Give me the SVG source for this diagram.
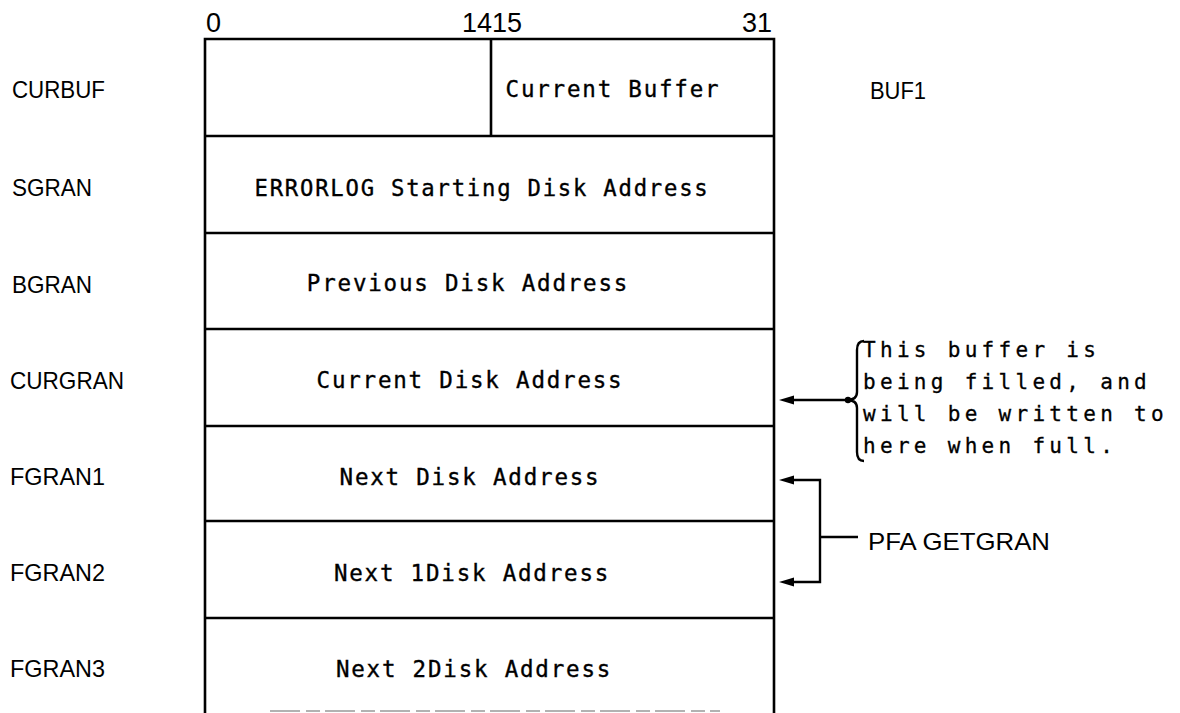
<svg xmlns="http://www.w3.org/2000/svg" width="1180" height="713" viewBox="0 0 1180 713">
  <defs>
    <style>
      .frame { fill: none; stroke: #000; stroke-width: 2.6; }
      .ln { fill: none; stroke: #000; stroke-width: 2.4; }
      .lbl { font-family: "Liberation Sans", Arial, sans-serif; font-size: 24px; fill: #000; }
      .num { font-family: "Liberation Sans", Arial, sans-serif; font-size: 27px; fill: #000; }
      .box { font-family: "DejaVu Sans Mono", "Liberation Mono", monospace; font-size: 22.5px; letter-spacing: 1.8px; fill: #000; stroke: #000; stroke-width: 0.35; text-anchor: middle; }
      .note { font-family: "DejaVu Sans Mono", "Liberation Mono", monospace; font-size: 21px; letter-spacing: 4.3px; fill: #000; stroke: #000; stroke-width: 0.3; }
      .head { fill: #000; }
    </style>
  </defs>
  <rect width="1180" height="713" fill="#fff"/>

  <g id="bit-numbers">
    <text class="num" x="206" y="32">0</text>
    <text class="num" x="492" y="32" text-anchor="end">14</text>
    <text class="num" x="492" y="32">15</text>
    <text class="num" x="772" y="32" text-anchor="end">31</text>
  </g>

  <g id="table">
    <path class="frame" d="M205,713 V39 H774 V713"/>
    <line class="frame" x1="491" y1="39" x2="491" y2="136"/>
    <line class="frame" x1="205" y1="136" x2="774" y2="136"/>
    <line class="frame" x1="205" y1="233" x2="774" y2="233"/>
    <line class="frame" x1="205" y1="329" x2="774" y2="329"/>
    <line class="frame" x1="205" y1="426" x2="774" y2="426"/>
    <line class="frame" x1="205" y1="521" x2="774" y2="521"/>
    <line class="frame" x1="205" y1="618" x2="774" y2="618"/>
    <line x1="270" y1="711" x2="720" y2="711" stroke="#999" stroke-width="1.5" stroke-dasharray="30,6,14,5"/>
  </g>

  <g id="row-curbuf">
    <text class="lbl" x="12" y="98" textLength="93" lengthAdjust="spacingAndGlyphs">CURBUF</text>
    <text class="box" x="613" y="97">Current Buffer</text>
    <text class="lbl" x="870" y="99" textLength="56" lengthAdjust="spacingAndGlyphs">BUF1</text>
  </g>
  <g id="row-sgran">
    <text class="lbl" x="12" y="196" textLength="80" lengthAdjust="spacingAndGlyphs">SGRAN</text>
    <text class="box" x="482" y="196" textLength="455" lengthAdjust="spacingAndGlyphs">ERRORLOG Starting Disk Address</text>
  </g>
  <g id="row-bgran">
    <text class="lbl" x="12" y="293" textLength="80" lengthAdjust="spacingAndGlyphs">BGRAN</text>
    <text class="box" x="468" y="291">Previous Disk Address</text>
  </g>
  <g id="row-curgran">
    <text class="lbl" x="10" y="389" textLength="114" lengthAdjust="spacingAndGlyphs">CURGRAN</text>
    <text class="box" x="470" y="388">Current Disk Address</text>
  </g>
  <g id="row-fgran1">
    <text class="lbl" x="10" y="485" textLength="95" lengthAdjust="spacingAndGlyphs">FGRAN1</text>
    <text class="box" x="470" y="485">Next Disk Address</text>
  </g>
  <g id="row-fgran2">
    <text class="lbl" x="10" y="581" textLength="95" lengthAdjust="spacingAndGlyphs">FGRAN2</text>
    <text class="box" x="472" y="581">Next 1Disk Address</text>
  </g>
  <g id="row-fgran3">
    <text class="lbl" x="10" y="677" textLength="95" lengthAdjust="spacingAndGlyphs">FGRAN3</text>
    <text class="box" x="474" y="677">Next 2Disk Address</text>
  </g>

  <g id="note-buffer">
    <text class="note" x="863" y="357">This buffer is</text>
    <text class="note" x="863" y="389">being filled, and</text>
    <text class="note" x="863" y="421">will be written to</text>
    <text class="note" x="863" y="453">here when full.</text>
  </g>
  <g id="note-getgran">
    <text class="lbl" x="868" y="550" textLength="182" lengthAdjust="spacingAndGlyphs">PFA GETGRAN</text>
  </g>

  <g id="connectors">
    <path class="ln" d="M864,341 Q857,341 857,350 V392 Q857,400 847,400 Q857,400 857,408 V452 Q857,461 864,461"/>
    <circle cx="848" cy="400" r="3.2" fill="#000"/>
    <line class="ln" x1="846" y1="400" x2="790" y2="400"/>
    <polygon class="head" points="779,400 794,395.5 794,404.5"/>
    <path class="ln" d="M790,480 H820 V582 H790"/>
    <polygon class="head" points="779,480 794,475.5 794,484.5"/>
    <polygon class="head" points="779,582 794,577.5 794,586.5"/>
    <line class="ln" x1="820" y1="537" x2="858" y2="537"/>
  </g>
</svg>
